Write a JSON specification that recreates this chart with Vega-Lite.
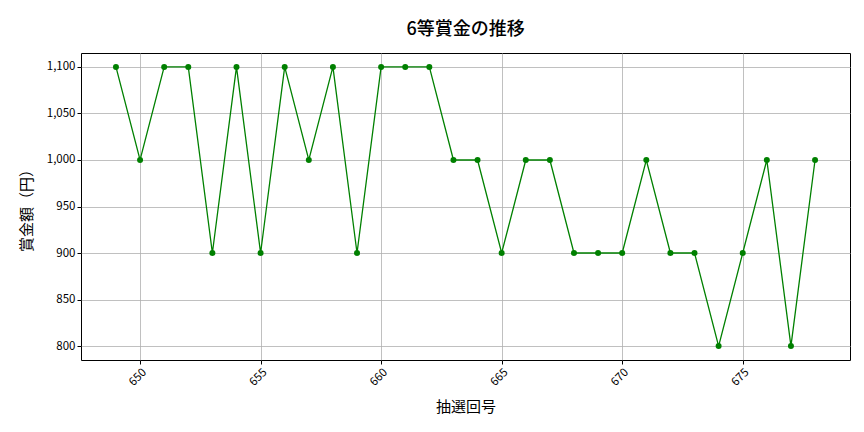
{
  "$schema": "https://vega.github.io/schema/vega-lite/v6.json",
  "width": 769,
  "height": 307,
  "autosize": {"type": "none"},
  "padding": {"left": 81, "top": 53, "right": 14, "bottom": 72},
  "background": "white",
  "title": {
    "text": "6等賞金の推移",
    "font": "Noto Sans CJK JP",
    "fontSize": 18,
    "fontWeight": 500,
    "color": "#000000",
    "offset": 14
  },
  "config": {
    "view": {"stroke": "#000000", "strokeWidth": 1},
    "axis": {
      "labelFont": "Noto Sans CJK JP",
      "titleFont": "Noto Sans CJK JP",
      "labelFontSize": 11.5,
      "titleFontSize": 15,
      "titleFontWeight": "normal",
      "labelColor": "#000000",
      "titleColor": "#000000",
      "gridColor": "#b0b0b0",
      "gridWidth": 0.8,
      "domain": false,
      "tickColor": "#000000",
      "tickSize": 4
    }
  },
  "data": {
    "values": [
      {"draw": 649, "prize": 1100},
      {"draw": 650, "prize": 1000},
      {"draw": 651, "prize": 1100},
      {"draw": 652, "prize": 1100},
      {"draw": 653, "prize": 900},
      {"draw": 654, "prize": 1100},
      {"draw": 655, "prize": 900},
      {"draw": 656, "prize": 1100},
      {"draw": 657, "prize": 1000},
      {"draw": 658, "prize": 1100},
      {"draw": 659, "prize": 900},
      {"draw": 660, "prize": 1100},
      {"draw": 661, "prize": 1100},
      {"draw": 662, "prize": 1100},
      {"draw": 663, "prize": 1000},
      {"draw": 664, "prize": 1000},
      {"draw": 665, "prize": 900},
      {"draw": 666, "prize": 1000},
      {"draw": 667, "prize": 1000},
      {"draw": 668, "prize": 900},
      {"draw": 669, "prize": 900},
      {"draw": 670, "prize": 900},
      {"draw": 671, "prize": 1000},
      {"draw": 672, "prize": 900},
      {"draw": 673, "prize": 900},
      {"draw": 674, "prize": 800},
      {"draw": 675, "prize": 900},
      {"draw": 676, "prize": 1000},
      {"draw": 677, "prize": 800},
      {"draw": 678, "prize": 1000}
    ]
  },
  "mark": {
    "type": "line",
    "color": "#008000",
    "strokeWidth": 1.3,
    "point": {"filled": true, "color": "#008000", "size": 36, "opacity": 1}
  },
  "encoding": {
    "x": {
      "field": "draw",
      "type": "quantitative",
      "title": "抽選回号",
      "scale": {"domain": [647.55, 679.45], "nice": false, "zero": false},
      "axis": {
        "values": [650, 655, 660, 665, 670, 675],
        "labelAngle": -45,
        "labelAlign": "right",
        "labelBaseline": "top",
        "labelPadding": 2,
        "titlePadding": 12
      }
    },
    "y": {
      "field": "prize",
      "type": "quantitative",
      "title": "賞金額（円）",
      "scale": {"domain": [785, 1115], "nice": false, "zero": false},
      "axis": {
        "values": [800, 850, 900, 950, 1000, 1050, 1100],
        "format": ",.0f",
        "titlePadding": 12
      }
    }
  }
}
